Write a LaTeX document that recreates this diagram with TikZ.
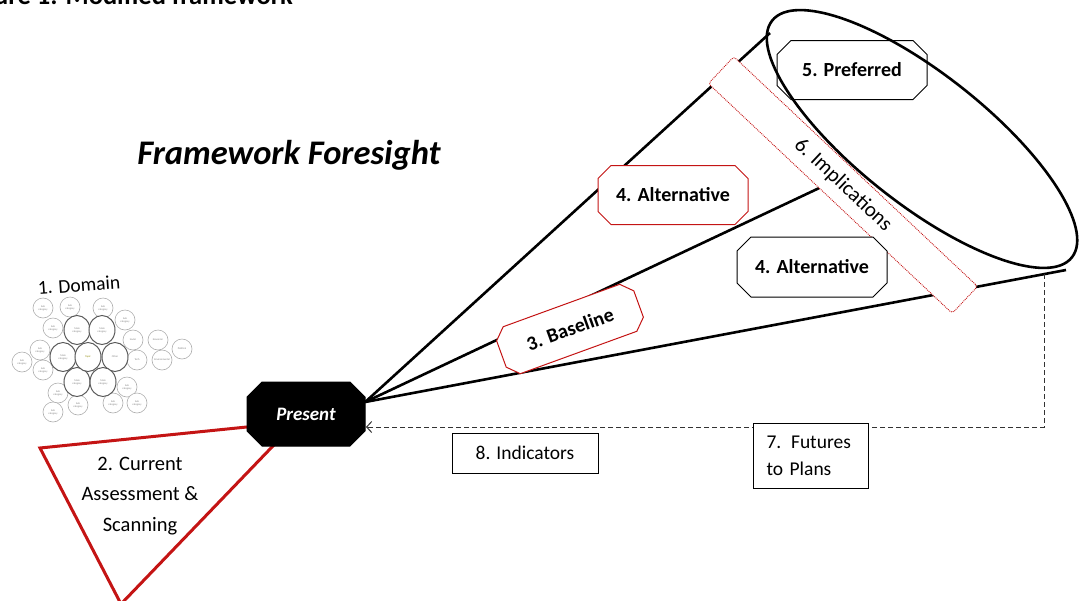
\documentclass[tikz,border=0pt]{standalone}
\usepackage{fontspec}
\setmainfont{Carlito}
\usetikzlibrary{shapes.geometric,arrows.meta}
\definecolor{dred}{RGB}{196,20,20}
\definecolor{subgray}{RGB}{175,175,175}
\definecolor{maingray}{RGB}{90,90,90}
\begin{document}
\begin{tikzpicture}[x=1pt,y=-1pt,
  cone/.style={line width=2.6pt, black},
  pics/octa/.style args={#1/#2/#3}{code={
    \draw[pic actions] (-#1+#3,-#2) -- (#1-#3,-#2) -- (#1,-#2+#3) -- (#1,#2-#3)
      -- (#1-#3,#2) -- (-#1+#3,#2) -- (-#1,#2-#3) -- (-#1,-#2+#3) -- cycle;}},
  octline/.style={line width=1pt, line join=miter, fill=white},
  btext/.style={inner sep=0pt, font=\bfseries\fontsize{20}{24}\selectfont},
  rbox/.style={rectangle, draw=black, fill=white, line width=1pt, inner sep=0pt,
    font=\fontsize{19.5}{27}\selectfont},
  subc/.style={circle, draw=subgray, line width=0.6pt, fill=white, minimum size=20pt, inner sep=0pt,
    align=center, text=gray, font=\fontsize{2.6}{3}\selectfont},
  mainc/.style={ellipse, draw=maingray, line width=1pt, fill=white, minimum width=26pt, minimum height=29pt,
    inner sep=0pt, align=center, text=gray, font=\fontsize{2.6}{3}\selectfont},
  fbline/.style={dash pattern=on 5pt off 3pt, line width=1pt, black!80},
]
\useasboundingbox (0,0) rectangle (1079,600);
\clip (0,0) rectangle (1079,600);

% header (cut off at top)
\node[anchor=base west, inner sep=0pt, font=\bfseries\fontsize{26.5}{28}\selectfont] (hdr) at (-6,4) {ure 1: Modified framework};

% title
\node[inner sep=0pt, font=\bfseries\itshape\fontsize{34.5}{38}\selectfont] (title) at (289,155) {Framework Foresight};

% domain cluster
\node[rotate=4, inner sep=0pt, font=\fontsize{19.5}{22}\selectfont] (dom) at (79,285) {1. Domain};
\foreach \x/\y/\t [count=\i] in {43/308/{Sub\\category},70/307/{Sub\\category},103/308/{Sub\\category},125/320/{Sub\\category},
  53/328/{Sub\\category},133/340/{Social},158/340/{Economic},182/349/{Political},40/350/{Sub\\category},
  22/362/{Sub\\category},43/370/{Sub\\category},137/360/{Tech},162/360/{Environmental},127/387/{Sub\\category},
  58/393/{Sub\\category},78/405/{Sub\\category},113/403/{Sub\\category},137/403/{Sub\\category},53/412/{Sub\\category}}
  \node[subc] (s\i) at (\x,\y) {\t};
\foreach \x/\y/\t [count=\i] in {77/330/{Main\\category},102/330/{Main\\category},63/357/{Main\\category},
  115/357/{Other},77/382/{Main\\category},103/382/{Main\\category}}
  \node[mainc] (m\i) at (\x,\y) {\t};
\node[mainc, text=olive] (topic) at (88,357) {Topic};

% current assessment triangle
\draw[dred, line width=3pt, line join=miter] (40,448) -- (296,422) -- (121,604) -- cycle;
\node[align=center, inner sep=0pt, font=\fontsize{20.5}{30.5}\selectfont] (cur) at (140,496) {2. Current\\Assessment \&\\Scanning};

% coordinates
\coordinate (t1) at (770,33);
\coordinate (t2) at (832,182);
\coordinate (t3) at (1066,270);
\coordinate (fb) at (1044,274);
\coordinate (arr) at (366,427);

% present
\node[inner sep=0pt, minimum width=118pt, minimum height=64pt] (present) at (306,414) {};
\draw[cone] ([yshift=12pt]present.east) -- (t1);
\draw[cone] ([yshift=12pt]present.east) -- (t2);
\draw[cone] ([yshift=12pt]present.east) -- (t3);
\pic[octline, draw=black, fill=black] at (present) {octa=59/32/15};
\node[inner sep=0pt, text=white, font=\bfseries\itshape\fontsize{19}{22}\selectfont] (ptext) at (present) {Present};

% preferred + mouth ellipse
\pic[octline, draw=black] at (852,70) {octa=75/29.5/14};
\node[btext] (pref) at (852,70) {5. Preferred};
\node[ellipse, draw=black, line width=2.6pt, minimum width=382pt, minimum height=130pt, inner sep=0pt,
  rotate=-38.3] (mouth) at (922,139) {};

% implications
\node[rectangle, rounded corners=3pt, draw=dred, densely dotted, line width=0.9pt, fill=white,
  minimum width=335pt, minimum height=37pt, inner sep=0pt, rotate=-43.3,
  font=\fontsize{21}{24}\selectfont] (impl) at (843,185) {6. Implications};

% alternatives and baseline
\pic[octline, draw=dred] at (673,195) {octa=75/29.5/13};
\node[btext] (alt1) at (673,195) {4. Alternative};
\pic[octline, draw=black] at (812,267) {octa=75/30/14};
\node[btext] (alt2) at (812,267) {4. Alternative};
\pic[octline, draw=dred, rotate=20] at (570,329) {octa=73/25/11};
\node[btext, rotate=20] (base) at (570,329) {3. Baseline};

% feedback dashed connector
\draw[fbline, -{Straight Barb[length=5pt,width=11pt]}] (fb) |- (arr);

% boxes
\node[rbox, minimum width=146pt, minimum height=40pt] (ind) at (525,453) {8. Indicators};
\node[rbox, minimum height=65pt, text width=88pt, inner xsep=13.5pt, align=left] (fut) at (810.5,455.5) {7. Futures\\to Plans};
\end{tikzpicture}
\end{document}
